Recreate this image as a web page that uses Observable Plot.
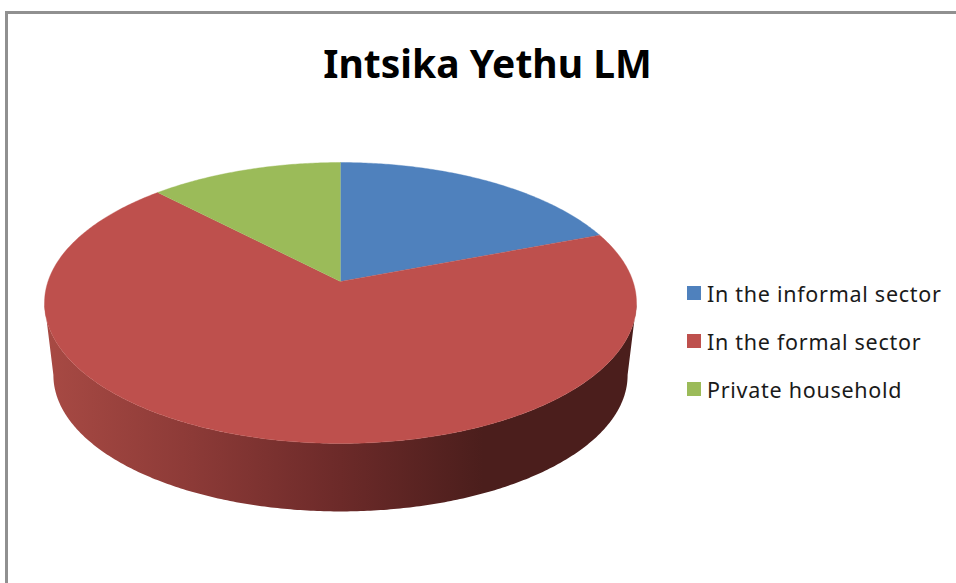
<!DOCTYPE html>
<html>
<head>
<meta charset="utf-8">
<script src="https://cdn.jsdelivr.net/npm/d3@7"></script>
<script src="https://cdn.jsdelivr.net/npm/@observablehq/plot@0.6"></script>
<style>
  html, body { margin: 0; background: #fff; }
  #page { position: relative; width: 956px; height: 583px; overflow: hidden; font-family: "Noto Sans", sans-serif; }
  #frame { position: absolute; left: 5px; top: 11px; right: -5px; bottom: -5px; border: 3px solid #909090; }
  #title { position: absolute; left: 0; top: 33px; width: 975px; text-align: center; font-size: 39px; line-height: 60px; font-weight: 700; color: #000; }
  #chart { position: absolute; left: 0; top: 130px; }
  #legend { position: absolute; left: 687px; top: 269px; color: #1a1a1a; font-size: 21.5px; letter-spacing: 0.72px; }
  .item { display: flex; align-items: center; height: 48px; }
  .swatch { width: 14px; height: 14px; margin-right: 6px; }
</style>
</head>
<body>
<div id="page">
  <div id="frame"></div>
  <div id="title"></div>
  <div id="chart"></div>
  <div id="legend"></div>
</div>
<script>
const titleText = "Intsika Yethu LM";
const categories = ["In the informal sector", "In the formal sector", "Private household"];
const shares = [19.2, 68.6, 12.2];
const colors = ["#4f81bd", "#be504d", "#9bbb59"];

// View of the tilted disc
const perspective = 0.153, tilt = 0.469, depth = 0.249, shrink = 0.97;
const pxPerUnit = 292.5;
const svgWidth = 650, svgHeight = 453;

const top3d = (a) => {
  const d = 1 + perspective * Math.cos(a);
  return {u: Math.sin(a) / d, v: tilt * Math.cos(a) / d};
};
const low3d = (a) => {
  const p = top3d(a);
  return {u: p.u * shrink, v: p.v * shrink - depth};
};
const arc = (a0, a1, f) => {
  const n = Math.max(2, Math.ceil((a1 - a0) / 0.01));
  return d3.range(n + 1).map((i) => f(a0 + (a1 - a0) * i / n));
};

const arcs = d3.pie().sort(null).value((d) => d)(shares);
const slicePoints = arcs.flatMap((s, i) =>
  [{u: 0, v: 0}, ...arc(s.startAngle, s.endAngle, top3d)].map((p) => ({...p, name: categories[i]}))
);

// Visible rim: from the disc's widest point on the right round the front to the left
const rimStart = Math.PI / 2 + 0.153, rimEnd = 3 * Math.PI / 2 - 0.153;
const rimPoints = [...arc(rimStart, rimEnd, top3d), ...arc(rimStart, rimEnd, low3d).reverse()];

document.getElementById("title").textContent = titleText;

const chart = Plot.plot({
  width: svgWidth,
  height: svgHeight,
  margin: 0,
  style: {background: "transparent", overflow: "visible"},
  x: {domain: [-340 / pxPerUnit, (svgWidth - 340) / pxPerUnit], range: [0, svgWidth], axis: null},
  y: {domain: [-(svgHeight - 151) / pxPerUnit, 151 / pxPerUnit], range: [svgHeight, 0], axis: null},
  color: {domain: categories, range: colors},
  marks: [
    () => {
      const defs = d3.create("svg:defs");
      const g = defs.append("linearGradient").attr("id", "rim-shade");
      [[0, "#a84a44"], [0.25, "#8c3a37"], [0.5, "#6c2a29"], [0.74, "#4b1e1c"], [1, "#4b1e1c"]]
        .forEach(([o, c]) => g.append("stop").attr("offset", o).attr("stop-color", c));
      return defs.node();
    },
    Plot.line(rimPoints, {x: "u", y: "v", fill: "url(#rim-shade)", stroke: "none"}),
    Plot.line(slicePoints, {x: "u", y: "v", z: "name", fill: "name", stroke: "name", strokeWidth: 0.4})
  ]
});
document.getElementById("chart").append(chart);

const legend = d3.select("#legend");
categories.forEach((c, i) => {
  const row = legend.append("div").attr("class", "item");
  row.append("div").attr("class", "swatch").style("background", colors[i]);
  row.append("div").text(c);
});
</script>
</body>
</html>
